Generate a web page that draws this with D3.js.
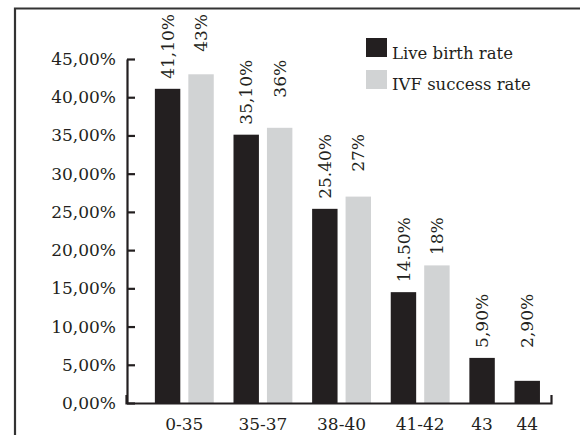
<!DOCTYPE html>
<html>
<head>
<meta charset="utf-8">
<script src="https://cdn.jsdelivr.net/npm/d3@7"></script>
<style>
  html, body { margin: 0; padding: 0; background: #fff; }
  svg { display: block; }
</style>
</head>
<body>
<svg id="chart" width="580" height="435"></svg>
<script>
const categories = ["0-35", "35-37", "38-40", "41-42", "43", "44"];
const seriesNames = ["Live birth rate", "IVF success rate"];
const liveBirth = [41.1, 35.1, 25.4, 14.5, 5.9, 2.9];
const ivfSuccess = [43, 36, 27, 18, null, null];
const liveBirthLabels = ["41,10%", "35,10%", "25.40%", "14.50%", "5,90%", "2,90%"];
const ivfLabels = ["43%", "36%", "27%", "18%", null, null];
const yTicks = [0, 5, 10, 15, 20, 25, 30, 35, 40, 45];
const yTickLabels = ["0,00%", "5,00%", "10,00%", "15,00%", "20,00%", "25,00%", "30,00%", "35,00%", "40,00%", "45,00%"];

const colors = ["#231f20", "#d1d3d4"];
const ink = "#231f20";
const FONT = "'DejaVu Serif', serif";

const svg = d3.select("#chart");

// frame
svg.append("path")
  .attr("d", "M15,445V8.5H590")
  .attr("fill", "none")
  .attr("stroke", "#333")
  .attr("stroke-width", 2.2);

const y = d3.scaleLinear().domain([0, 45]).range([403, 59]);

// build slots
const groupGap = 0.35;
const slots = [];
const groups = [];
let slotCount = 0;
categories.forEach((c, g) => {
  const vals = [liveBirth[g], ivfSuccess[g]];
  const labs = [liveBirthLabels[g], ivfLabels[g]];
  const first = slotCount + g * groupGap;
  vals.forEach((v, s) => {
    if (v == null) return;
    slots.push({cat: c, g, s, v, label: labs[s], pos: slotCount + g * groupGap});
    slotCount++;
  });
  const last = (slotCount - 1) + g * groupGap;
  groups.push({cat: c, g, first, last});
});
const barW = 0.76;
const x = d3.scaleLinear().domain([-0.863, 11.84]).range([126, 551]);

// bars
svg.append("g").selectAll("rect").data(slots).join("rect")
  .attr("x", d => x(d.pos))
  .attr("width", d => x(d.pos + barW) - x(d.pos))
  .attr("y", d => y(d.v))
  .attr("height", d => y(0) - y(d.v))
  .attr("fill", d => colors[d.s]);

// value labels: rotated, top-aligned within each group (last two groups share a level)
const labels = svg.append("g").selectAll("text").data(slots).join("text")
  .attr("text-anchor", "end")
  .attr("dy", "0.36em")
  .attr("font-family", FONT)
  .attr("font-size", 17)
  .attr("fill", ink)
  .text(d => d.label);
labels.each(function(d) { d.len = this.getComputedTextLength(); });
const levelKey = g => (g >= 4 ? 4 : g);
const levels = d3.rollup(slots, v => d3.min(v, d => y(d.v) - d.len) - 10, d => levelKey(d.g));
labels.attr("transform", d => `translate(${x(d.pos + barW / 2)},${levels.get(levelKey(d.g))}) rotate(-90)`);

// y axis
const yAxis = d3.axisLeft(y)
  .tickValues(yTicks)
  .tickFormat((d, i) => yTickLabels[i])
  .tickSizeInner(-8)
  .tickSizeOuter(0)
  .tickPadding(11);
const gy = svg.append("g").attr("transform", "translate(127,0)").call(yAxis)
  .attr("font-family", FONT).attr("font-size", 17);
gy.selectAll("path, line").attr("stroke", ink).attr("stroke-width", 2.2);
gy.selectAll("text").attr("fill", ink);

// x axis
const xAxis = d3.axisBottom(x).tickValues([]).tickSizeOuter(-8);
const gx = svg.append("g").attr("transform", "translate(0,403)").call(xAxis);
gx.select("path").attr("stroke", ink).attr("stroke-width", 2.2).attr("fill", "none");

// category labels
svg.append("g").selectAll("text").data(groups).join("text")
  .attr("x", d => (x(d.first) + x(d.last + barW)) / 2)
  .attr("y", 430)
  .attr("text-anchor", "middle")
  .attr("font-family", FONT)
  .attr("font-size", 17)
  .attr("fill", ink)
  .text(d => d.cat);

// legend
const legend = svg.append("g").attr("transform", "translate(366,38)");
seriesNames.forEach((n, i) => {
  legend.append("rect").attr("x", 0).attr("y", i * 32).attr("width", 21).attr("height", 19).attr("fill", colors[i]);
  legend.append("text").attr("x", 26).attr("y", i * 31 + 21).attr("font-family", FONT).attr("font-size", 16.5).attr("fill", ink).text(n);
});
</script>
</body>
</html>
